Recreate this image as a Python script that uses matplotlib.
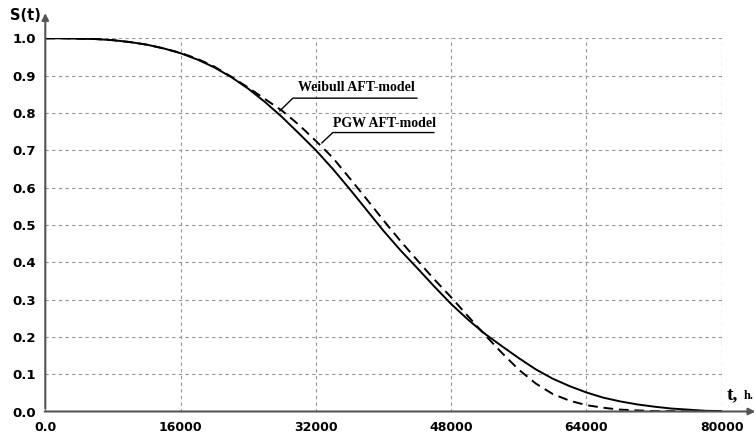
import matplotlib.pyplot as plt

# survival curves (every 2000 h)
t_grid = [0, 2000, 4000, 6000, 8000, 10000, 12000, 14000, 16000, 18000, 20000,
          22000, 24000, 26000, 28000, 30000, 32000, 34000, 36000, 38000, 40000,
          42000, 44000, 46000, 48000, 50000, 52000, 54000, 56000, 58000, 60000,
          62000, 64000, 66000, 68000, 70000, 72000, 74000, 76000, 78000, 80000]

s_weibull = [1.000, 1.000, 0.999, 0.998, 0.995, 0.990, 0.983, 0.973, 0.960, 0.943, 0.922,
             0.896, 0.865, 0.829, 0.789, 0.745, 0.700, 0.650, 0.596, 0.540, 0.484,
             0.432, 0.384, 0.335, 0.288, 0.246, 0.208, 0.175, 0.143, 0.113, 0.088,
             0.068, 0.051, 0.037, 0.027, 0.019, 0.013, 0.008, 0.005, 0.002, 0.001]

s_pgw = [1.000, 1.000, 0.999, 0.998, 0.995, 0.990, 0.983, 0.973, 0.961, 0.945, 0.924,
         0.897, 0.868, 0.837, 0.806, 0.768, 0.725, 0.680, 0.625, 0.569, 0.512,
         0.457, 0.405, 0.354, 0.306, 0.255, 0.205, 0.157, 0.112, 0.075, 0.047,
         0.029, 0.017, 0.010, 0.005, 0.003, 0.001, 0.001, 0.000, 0.000, 0.000]

x_ticks = [0, 16000, 32000, 48000, 64000, 80000]
x_labels = ['0.0', '16000', '32000', '48000', '64000', '80000']
y_ticks = [0.0, 0.1, 0.2, 0.3, 0.4, 0.5, 0.6, 0.7, 0.8, 0.9, 1.0]

fig = plt.figure(figsize=(7.55, 4.38), dpi=100)
ax = fig.add_axes([0.060, 0.0605, 0.896, 0.852])

ax.plot(t_grid, s_weibull, color='black', lw=1.4)
ax.plot(t_grid, s_pgw, color='black', lw=1.4, linestyle=(0, (5, 3)))

ax.set_xlim(0, 80000)
ax.set_ylim(0, 1.0)
ax.set_xticks(x_ticks)
ax.set_xticklabels(x_labels)
ax.set_yticks(y_ticks)
ax.set_yticklabels([f'{v:.1f}' for v in y_ticks])
ax.tick_params(length=0)
ax.tick_params(axis='x', pad=7, labelsize=9)
ax.tick_params(axis='y', pad=7, labelsize=9.5)
for lab in ax.get_xticklabels() + ax.get_yticklabels():
    lab.set_fontweight('bold')

ax.grid(True, color='#959595', lw=0.8, linestyle=(0, (3, 3)))
for side in ['top', 'right', 'left', 'bottom']:
    ax.spines[side].set_visible(False)
# right-hand grid line at 80000
ax.axvline(80000, color='#959595', lw=0.8, linestyle=(0, (3, 3)))

# axis arrows
ax.annotate('', xy=(0, 1.075), xytext=(0, 0), xycoords='data', annotation_clip=False,
            arrowprops=dict(arrowstyle='-|>', color='#555555', lw=1.5, mutation_scale=10))
ax.annotate('', xy=(84300, 0), xytext=(-400, 0), xycoords='data', annotation_clip=False,
            arrowprops=dict(arrowstyle='-|>', color='#555555', lw=1.5, mutation_scale=10))

fig.text(0.013, 0.965, 'S(t)', fontsize=10.5, fontweight='bold', va='center', ha='left')
fig.text(0.963, 0.089, 't,', fontsize=14, fontweight='bold', family='Liberation Serif',
         va='baseline', ha='left')
fig.text(0.985, 0.089, 'h.', fontsize=9, fontweight='bold', family='Liberation Serif',
         va='baseline', ha='left')

# curve labels with leader lines
serif = dict(fontsize=10, fontweight='bold', family='Liberation Serif', ha='center', va='center')
ax.text(36730, 0.869, 'Weibull AFT-model', **serif)
ax.plot([27740, 29280, 43940], [0.8056, 0.8397, 0.8397], color='black', lw=1.0)
ax.text(40160, 0.771, 'PGW AFT-model', **serif)
ax.plot([32710, 34000, 45950], [0.7198, 0.7475, 0.7475], color='black', lw=1.0)

fig.savefig('out.png', dpi=100)
